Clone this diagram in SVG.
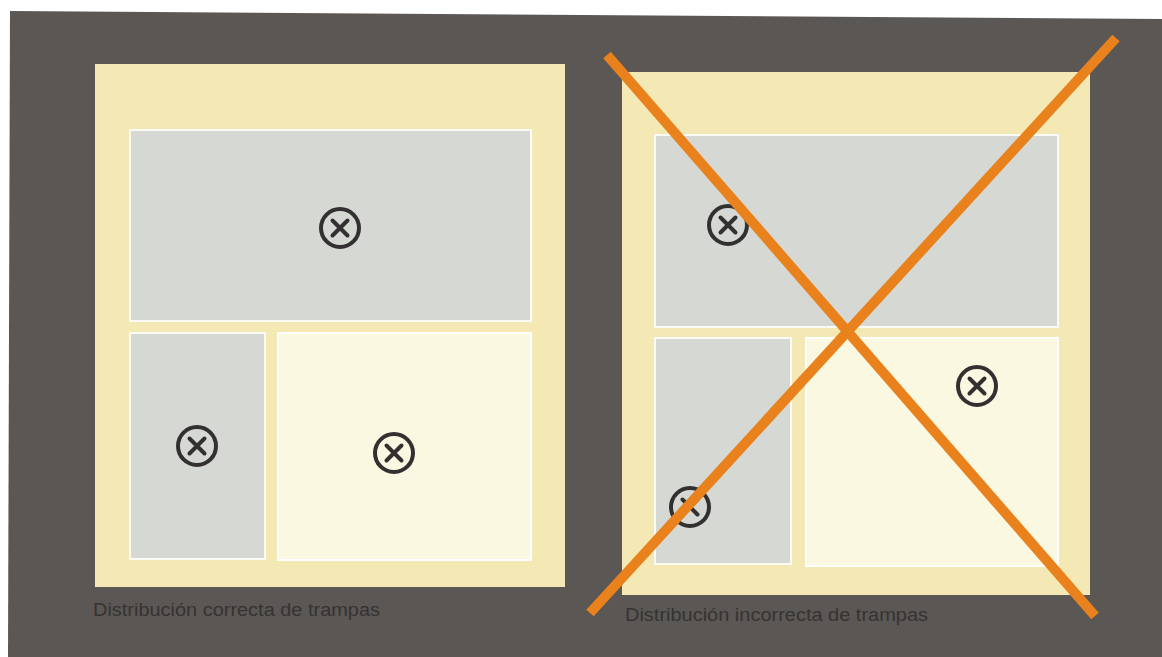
<svg xmlns="http://www.w3.org/2000/svg" width="1162" height="657" viewBox="0 0 1162 657">
<style>
.panel{fill:#f4e8b4}
.gray{fill:#d6d8d3;stroke:#fbfbf6;stroke-width:2}
.light{fill:#fbf8e2;stroke:#ffffff;stroke-width:2}
.trap circle{fill:none;stroke:#323030;stroke-width:4}
.trap path{stroke:#323030;stroke-width:4;stroke-linecap:round}
.cap{font-family:"Liberation Sans",Arial,sans-serif;font-size:18px;fill:#363331}
.cross{stroke:#e9821c;stroke-width:10;stroke-linecap:butt}
</style>
<defs>
<g id="trap" class="trap"><circle r="19"/><path d="M-7.5,-7.5L7.5,7.5M7.5,-7.5L-7.5,7.5"/></g>
</defs>
<rect width="1162" height="657" fill="#ffffff"/>
<polygon points="10,11 1162,19 1162,657 8,657" fill="#5b5755"/>
<g id="left-panel">
<rect class="panel" x="95" y="64" width="470" height="523"/>
<rect class="gray" x="130" y="130" width="401" height="191"/>
<rect class="gray" x="130" y="333" width="135" height="226"/>
<rect class="light" x="278" y="333" width="253" height="227"/>
<use href="#trap" x="340" y="228"/>
<use href="#trap" x="197" y="446"/>
<use href="#trap" x="394" y="453"/>
<text class="cap" x="93" y="616" textLength="287" lengthAdjust="spacingAndGlyphs">Distribución correcta de trampas</text>
</g>
<g id="right-panel">
<rect class="panel" x="622" y="72" width="468" height="523"/>
<rect class="gray" x="655" y="135" width="403" height="192"/>
<rect class="gray" x="655" y="338" width="136" height="226"/>
<rect class="light" x="806" y="338" width="252" height="228"/>
<use href="#trap" x="728" y="225"/>
<use href="#trap" x="977" y="386"/>
<use href="#trap" x="690" y="507"/>
<text class="cap" x="625" y="621" textLength="303" lengthAdjust="spacingAndGlyphs">Distribución incorrecta de trampas</text>
</g>
<g id="connectors">
<line class="cross" x1="607" y1="55" x2="1095" y2="616"/>
<line class="cross" x1="1116" y1="38" x2="590" y2="613"/>
</g>
</svg>
